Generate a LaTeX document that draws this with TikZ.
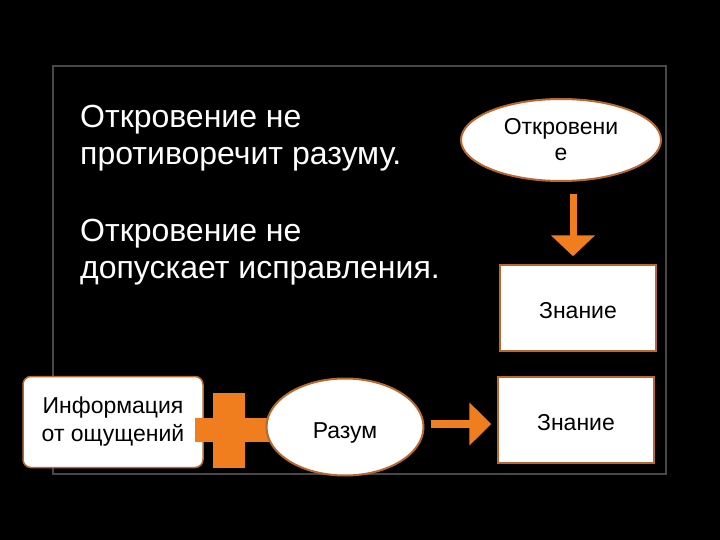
\documentclass[tikz,border=0pt]{standalone}
\usepackage{fontspec}
\setmainfont{Liberation Sans}
\usepackage{xcolor}
\usepackage{tikz}
\usetikzlibrary{arrows.meta,positioning,shapes.geometric}

\definecolor{rvorange}{RGB}{240,125,30}
\definecolor{rvedge}{RGB}{185,105,45}
\definecolor{rvframe}{RGB}{72,72,72}

\begin{document}
\begin{tikzpicture}[x=1pt, y=-1pt,
  rvtext/.style={text=white, align=left, inner sep=0pt, font=\fontsize{32}{37}\selectfont},
  rvbox/.style={draw=rvedge, line width=1.5pt, fill=white, align=center, inner sep=0pt, font=\fontsize{23}{28}\selectfont, minimum width=156pt, minimum height=86pt},
  rvell/.style={ellipse, draw=rvedge, line width=2pt, fill=white, align=center, inner sep=0pt, font=\fontsize{23}{26}\selectfont},
  rvarr/.style={draw=rvorange, line width=7pt, -{Triangle[width=43pt, length=21pt]}}
]
\fill[black] (0,0) rectangle (720,540);
\draw[rvframe, line width=2pt] (53,66) rectangle (666,474);
% left texts
\node[rvtext, anchor=base west] (t1) at (80,165) {Откровение не\\противоречит разуму.};
\node[rvtext, anchor=base west] (t2) at (80,278) {Откровение не\\допускает исправления.};
% right column
\node[rvell, minimum width=200pt, minimum height=82pt] (rev) at (561,140) {Откровени\\е};
\node[rvbox, text height=21pt] (zn1) at (578,308) {Знание};
\draw[rvarr] ([xshift=12pt, yshift=-12pt]rev.south) -- ([xshift=-5pt, yshift=8pt]zn1.north);
% bottom row
\node[rvbox, rounded corners=8pt, minimum width=180pt, minimum height=91pt] (info) at (113,422) {Информация\\от ощущений};
\fill[rvorange] (213,393) rectangle (245,468);
\fill[rvorange] (195,418) rectangle (273,442);
\node[rvell, minimum width=157pt, minimum height=97pt, text height=27pt] (raz) at (345,427) {Разум};
\node[rvbox, text height=21pt] (zn2) at (576,420) {Знание};
\draw[rvarr, line width=8pt, -{Triangle[width=42pt, length=22pt]}] ([xshift=6pt, yshift=3pt]raz.east) -- ([xshift=-6pt, yshift=-4pt]zn2.west);
\end{tikzpicture}
\end{document}
